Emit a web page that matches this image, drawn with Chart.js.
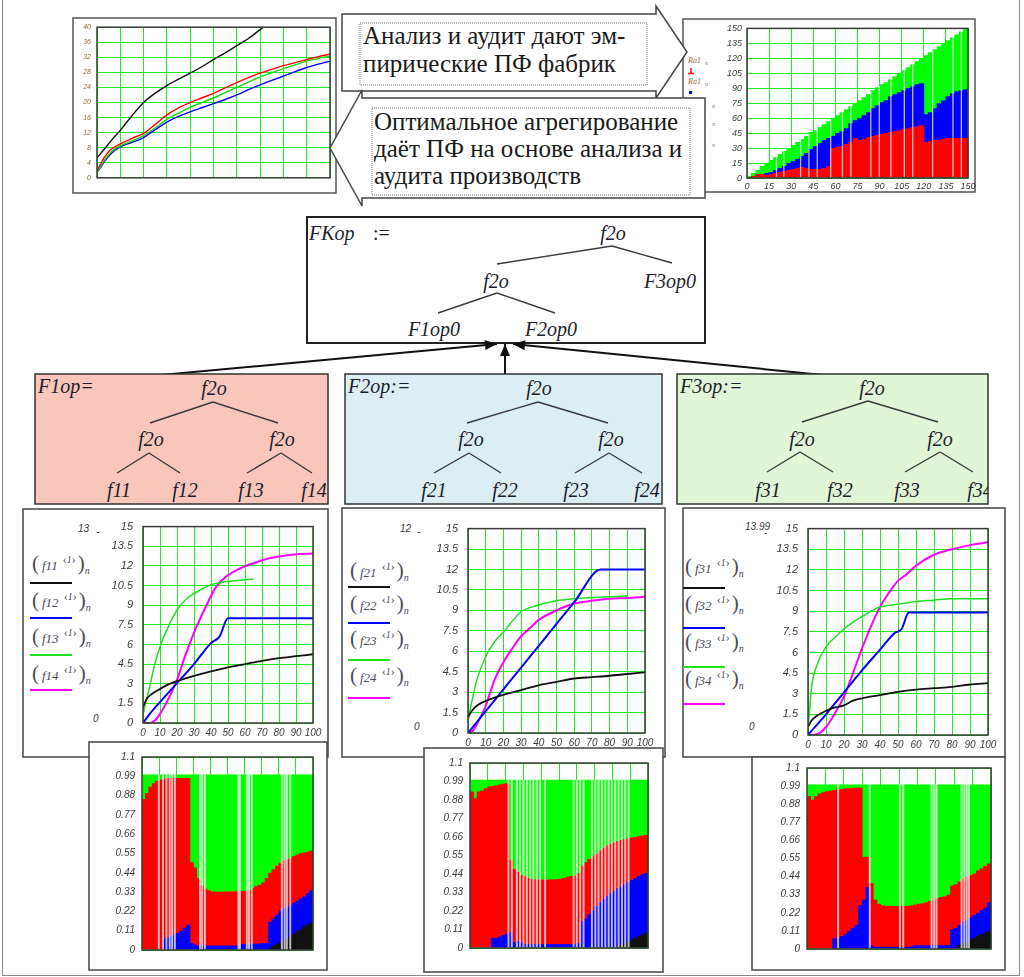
<!DOCTYPE html>
<html>
<head>
<meta charset="utf-8">
<script src="https://cdn.jsdelivr.net/npm/chart.js@4.4.0/dist/chart.umd.min.js"></script>
<style>
  body { margin: 0; background: #fff; }
  #sheet { position: relative; width: 1024px; height: 977px; overflow: hidden; }
  #sheet svg { position: absolute; left: 0; top: 0; }
  #sheet canvas { position: absolute; }
</style>
</head>
<body>
<div id="sheet">
  <svg id="art" width="1024" height="977"></svg>
</div>
<script>
// ---- tick values ----
const t1Ticks = [0, 4, 8, 12, 16, 20, 24, 28, 32, 36, 40];
const pctTicks = [0, 10, 20, 30, 40, 50, 60, 70, 80, 90, 100];
const t2Ticks = [0, 15, 30, 45, 60, 75, 90, 105, 120, 135, 150];
const fTicks = [0, 1.5, 3, 4.5, 6, 7.5, 9, 10.5, 12, 13.5, 15];
const shareTicks = [0, 0.11, 0.22, 0.33, 0.44, 0.55, 0.66, 0.77, 0.88, 0.99, 1.1];

// ---- empirical production functions of the three factories (x, y) ----
const t1Black = [[0,5.3],[3,7.5],[6,9.8],[10,12.6],[15,16.5],[20,20],[25,22.5],[30,24.5],[35,26.2],[40,27.8],[45,29.5],[50,31.4],[55,33.2],[60,35.1],[65,37],[71.4,40],[75,41.5]];
const t1Red = [[0,2],[1,3],[3,5.3],[6,7.5],[10,9],[15,10.5],[20,11.8],[25,14.2],[30,16.7],[35,18.6],[40,20],[45,21.2],[50,22.4],[55,23.9],[60,25.3],[65,26.6],[70,27.8],[75,28.8],[80,29.8],[85,30.6],[90,31.4],[95,32.2],[100,32.8]];
const t1Green = [[0,1.5],[1,2.5],[3,4.5],[6,6.8],[10,8.5],[15,9.8],[20,11.2],[25,13.3],[30,15.5],[35,17.2],[40,18.7],[45,20],[50,21.2],[55,22.6],[60,24],[65,25.4],[70,26.8],[75,27.9],[80,29],[85,30],[90,31],[95,31.7],[100,32.3]];
const t1Blue = [[0,1.5],[1,2.3],[3,4.2],[6,6.4],[10,8.2],[15,9.4],[20,10.7],[25,12.8],[30,14.8],[35,16.3],[40,17.5],[45,18.6],[50,19.7],[55,20.8],[60,22],[65,23.4],[70,24.7],[75,25.9],[80,27],[85,28.2],[90,29.3],[95,30.2],[100,31]];

// ---- Ra1 allocation, bar tops ----
const t2Mid = [1.5,4.5,7.5,10.5,13.5,16.5,19.5,22.5,25.5,28.5,31.5,34.5,37.5,40.5,43.5,46.5,49.5,52.5,55.5,58.5,61.5,64.5,67.5,70.5,73.5,76.5,79.5,82.5,85.5,88.5,91.5,94.5,97.5,100.5,103.5,106.5,109.5,112.5,115.5,118.5,121.5,124.5,127.5,130.5,133.5,136.5,139.5,142.5,145.5,148.5];
const t2Red = [1,2,4,4,3,4,5,6,7,8, 9,10,11,10,9,9,9,10,12,30, 31,32,34,36,40,38,39,41,42,43, 44,45,46,47,48,49,50,51,52,53, 36,37,38,38,39,40,40,40,40,40];
const t2Blue = [1,2,3,4,5,6,8,10,12,15, 17,19,22,25,29,32,35,38,40,42, 45,47,50,55,58,60,63,66,70,73, 76,78,82,84,86,88,90,92,94,95, 64,66,70,75,78,82,85,87,88,89];
const t2Green = [2,5,8,12,15,18,21,24,27,30, 33,36,39,42,46,48,51,54,57,60, 63,66,69,72,75,78,81,84,88,91, 94,96,99,102,105,108,111,114,117,120, 123,126,129,132,135,138,141,144,147,150];
// empty columns inside the allocation and their local heights
const t2Gaps = [20, 25, 36.4, 42, 47.7, 56.8, 64.8, 70.5, 84, 89.8, 97.7, 106.8, 112.5, 126, 139.8, 145.5];
const t2GapTops = [22, 27, 39, 44, 50, 59, 67, 73, 87, 92, 100, 109, 115, 128, 142, 148];

// ---- partial functions f11..f34 ----
const f11 = [[0,1.2],[2,1.8],[5,2.2],[10,2.6],[15,2.95],[20,3.2],[30,3.6],[40,3.95],[50,4.25],[60,4.5],[70,4.75],[80,4.95],[90,5.1],[100,5.25]];
const f12 = [[0,0],[4,0.7],[10,1.6],[20,3.05],[30,4.5],[40,6.1],[45,6.6],[50,8],[100,8]];
const f13 = [[0,0.6],[2,1.8],[4,2.8],[6,4],[8,5],[10,5.8],[12,6.5],[15,7.4],[18,8.2],[21,8.8],[25,9.4],[29,9.8],[33,10.1],[37,10.4],[41,10.6],[45,10.7],[49,10.8],[57,10.9],[65,11.0]];
const f14 = [[0,0],[4,0],[7,0.2],[10,0.7],[14,1.6],[17,2.4],[20,3.3],[25,5.2],[31,7.2],[37,8.9],[43,10.4],[49,11.2],[57,11.8],[65,12.2],[75,12.6],[84,12.8],[92,12.9],[100,12.95]];

const f21 = [[0,1.17],[2,1.6],[5,2.0],[10,2.35],[15,2.6],[20,2.8],[30,3.15],[40,3.5],[50,3.75],[60,4.0],[70,4.1],[80,4.2],[90,4.33],[100,4.45]];
const f22 = [[0,0],[10,1.6],[20,3.2],[30,4.8],[40,6.4],[50,8],[60,9.6],[75,12],[100,12]];
const f23 = [[0,0.8],[2,2.2],[5,3.9],[10,5.6],[15,6.7],[20,7.4],[25,8.2],[30,8.9],[35,9.2],[40,9.4],[50,9.7],[60,9.85],[70,9.95],[80,10.0],[90,10.05]];
const f24 = [[0,0],[3,0.2],[6,0.9],[10,2.0],[15,3.9],[20,5.2],[25,6.2],[30,7.1],[35,7.7],[40,8.3],[50,9.0],[60,9.5],[70,9.7],[80,9.85],[90,9.9],[100,10.0]];

const f31 = [[0,0.6],[2,1.05],[5,1.4],[10,1.75],[15,2.0],[20,2.15],[25,2.5],[30,2.67],[40,2.9],[50,3.14],[60,3.3],[70,3.4],[80,3.5],[90,3.67],[100,3.77]];
const f32 = [[0,0],[10,1.5],[20,3.1],[30,4.7],[40,6.2],[48,7.4],[52,7.7],[56,8.9],[100,8.9]];
const f33 = [[0,0.5],[1,2],[2,3.5],[5,5.1],[10,6.4],[15,7.1],[20,7.7],[25,8.2],[30,8.6],[35,9.0],[40,9.3],[50,9.5],[60,9.7],[70,9.8],[80,9.9],[100,9.9]];
const f34 = [[0,0],[5,0.05],[10,0.58],[15,1.6],[20,2.8],[25,4.5],[30,6.3],[35,7.9],[40,9.3],[45,10.35],[50,11.2],[55,11.7],[60,12.3],[70,13.1],[80,13.5],[90,13.8],[100,14.0]];

// ---- optimal shares, bar tops (black <= blue <= red <= total) ----
const binMid = [1,3,5,7,9,11,13,15,17,19,21,23,25,27,29,31,33,35,37,39,41,43,45,47,49,51,53,55,57,59,61,63,65,67,69,71,73,75,77,79,81,83,85,87,89,91,93,95,97,99];
const fullShare = [1,1,1,1,1,1,1,1,1,1, 1,1,1,1,1,1,1,1,1,1, 1,1,1,1,1,1,1,1,1,1, 1,1,1,1,1,1,1,1,1,1, 1,1,1,1,1,1,1,1,1,1];

const b1Red = [0.86,0.895,0.93,0.95,0.964,0.972,0.976,0.98,0.98,0.98, 0.98,0.98,0.98,0.98,0.5,0.47,0.41,0.37,0.35,0.34, 0.333,0.333,0.332,0.332,0.333,0.333,0.334,0.334,0.335,0.336, 0.338,0.342,0.355,0.365,0.372,0.385,0.41,0.44,0.46,0.48, 0.495,0.51,0.518,0.525,0.535,0.545,0.552,0.556,0.56,0.566];
const b1Blue = [0,0,0,0,0,0,0.066,0.074,0.083,0.09, 0.097,0.109,0.126,0.143,0.04,0.031,0.026,0.025,0.025,0.025, 0.025,0.025,0.025,0.025,0.025,0.025,0.025,0.025,0.03,0.033, 0.035,0.035,0.036,0.036,0.037,0.038,0.04,0.16,0.18,0.2, 0.225,0.238,0.247,0.26,0.27,0.28,0.295,0.305,0.325,0.34];
const b1Black = [0,0,0,0,0,0,0,0,0,0, 0,0,0,0,0,0,0,0,0,0, 0,0,0,0,0,0,0,0,0,0, 0,0,0,0,0,0,0,0.01,0.025,0.035, 0.045,0.057,0.07,0.083,0.095,0.109,0.12,0.135,0.148,0.155];
const b1Gaps = [9.8, 12.3, 14.3, 16.2, 17.6, 19.2, 33.9, 35.2, 36.8, 56.4, 57.3, 61.3, 62.6, 64.2, 81.8, 83.4, 84.7, 86.7];

const b2Red = [0.93,0.89,0.93,0.936,0.95,0.96,0.963,0.967,0.972,0.976, 0.98,0.525,0.47,0.453,0.435,0.426,0.417,0.41,0.408,0.408, 0.407,0.407,0.408,0.408,0.409,0.412,0.417,0.424,0.428,0.43, 0.445,0.49,0.51,0.53,0.545,0.56,0.58,0.597,0.61,0.62, 0.628,0.636,0.642,0.647,0.652,0.657,0.66,0.665,0.669,0.672];
const b2Blue = [0,0,0,0,0,0,0.059,0.06,0.068,0.077, 0.086,0.095,0.036,0.041,0.032,0.023,0.023,0.023,0.023,0.023, 0.023,0.023,0.023,0.023,0.023,0.023,0.023,0.023,0.023,0.023, 0.03,0.16,0.175,0.2,0.225,0.25,0.27,0.29,0.31,0.325, 0.34,0.355,0.365,0.38,0.393,0.405,0.415,0.428,0.438,0.446];
const b2Black = [0,0,0,0,0,0,0,0,0,0, 0,0,0,0,0,0,0,0,0,0, 0,0,0,0,0,0,0,0,0,0, 0,0,0,0,0,0,0,0,0,0, 0.003,0.01,0.018,0.028,0.04,0.05,0.062,0.072,0.082,0.09];
const b2Gaps = [21.6, 23.5, 26.3, 28.1, 30, 31.9, 33.8, 35.6, 37.5, 39.4, 42.2, 58.2, 60, 61.9, 63.8, 68.5, 70.4, 72.2, 74.1, 76, 77.9, 79.7, 81.6, 83.5, 85.4, 87.2, 89.1];

const b3Red = [0.93,0.907,0.93,0.945,0.953,0.959,0.962,0.966,0.97,0.972, 0.975,0.977,0.979,0.98,0.98,0.56,0.56,0.4,0.3,0.275, 0.266,0.262,0.262,0.262,0.262,0.262,0.262,0.262,0.265,0.27, 0.275,0.278,0.284,0.293,0.3,0.31,0.316,0.32,0.33,0.385, 0.394,0.41,0.427,0.44,0.449,0.458,0.477,0.49,0.504,0.52];
const b3Blue = [0,0,0,0,0,0,0,0.064,0.068,0.079, 0.092,0.11,0.128,0.147,0.266,0.3,0.376,0.02,0.013,0.013, 0.013,0.013,0.013,0.013,0.013,0.013,0.013,0.013,0.015,0.022, 0.022,0.022,0.022,0.022,0.022,0.022,0.022,0.022,0.024,0.12, 0.128,0.147,0.165,0.174,0.192,0.207,0.22,0.238,0.251,0.284];
const b3Black = [0,0,0,0,0,0,0,0,0,0, 0,0,0,0,0,0,0,0,0,0, 0,0,0,0,0,0,0,0,0,0, 0,0,0,0,0,0,0,0,0,0, 0.009,0.024,0.037,0.046,0.06,0.068,0.079,0.092,0.1,0.11];
const b3Gaps = [16.9, 34.1, 50.5, 52.3, 67.7, 69.1, 70.4, 84, 85.5, 86.8, 88];

// ---- colours ----
const GRID = '#22ea22';
const C = { black: '#111111', red: '#ff0000', blue: '#0000ff', green: '#1ee01e', magenta: '#ff00ff', barGreen: '#00ff00', gap: 'rgba(255,255,255,0.72)' };

// ---------------- svg helpers ----------------
const sheet = document.getElementById('sheet');
const art = document.getElementById('art');
const NS = 'http://www.w3.org/2000/svg';

function el(tag, attrs, parent) {
  const e = document.createElementNS(NS, tag);
  for (const k in attrs) e.setAttribute(k, attrs[k]);
  (parent || art).appendChild(e);
  return e;
}
function label(x, y, s, attrs, parent) {
  const t = el('text', Object.assign({ x, y }, attrs), parent);
  t.textContent = s;
  return t;
}
function span(t, s, attrs) {
  const e = el('tspan', attrs, t);
  e.textContent = s;
}
function seg(x1, y1, x2, y2, attrs, parent) {
  return el('line', Object.assign({ x1, y1, x2, y2, stroke: '#333', 'stroke-width': 1.5 }, attrs), parent);
}
function box(x, y, w, h, attrs) {
  return el('rect', Object.assign({ x, y, width: w, height: h, fill: '#fff', stroke: '#444', 'stroke-width': 1.5 }, attrs));
}
function head(x1, y1, x2, y2) {
  const a = Math.atan2(y2 - y1, x2 - x1), L = 12, W = 5;
  const bx = x2 - L * Math.cos(a), by = y2 - L * Math.sin(a);
  const px = -Math.sin(a) * W, py = Math.cos(a) * W;
  el('polygon', { points: `${x2},${y2} ${bx + px},${by + py} ${bx - px},${by - py}`, fill: '#111' });
}

const SERIF = { 'font-family': 'Liberation Serif', fill: '#1a1a1a' };
const TREE = { 'font-family': 'Liberation Serif', 'font-style': 'italic', 'font-size': 20, fill: '#1d1d2b', 'text-anchor': 'middle' };
const SMALL = { 'font-family': 'Liberation Sans', 'font-style': 'italic', 'font-size': 10, fill: '#3a3a3a' };

function drawTree(g, nodes, edges) {
  edges.forEach(([a, b, c, d]) => seg(a, b, c, d, { stroke: '#3a3a3a', 'stroke-width': 1.4 }, g));
  nodes.forEach(([s, x, y]) => label(x, y, s, TREE, g));
}

function opBox(id, x, y, w, h, fill, title, nodes, edges) {
  const clip = el('clipPath', { id });
  el('rect', { x, y, width: w, height: h }, clip);
  box(x, y, w, h, { fill, stroke: '#333' });
  const g = el('g', { 'clip-path': `url(#${id})` });
  label(x + 3, y + 19, title, Object.assign({}, TREE, { 'text-anchor': 'start' }), g);
  drawTree(g, nodes, edges);
}

function fLegend(x, y, name) {
  const t = el('text', { x, y, fill: '#4a4a58', 'font-family': 'Liberation Serif' });
  span(t, '(', { 'font-size': 21 });
  span(t, name, { 'font-size': 13, 'font-style': 'italic', dx: 3 });
  span(t, '\u2039', { 'font-size': 12, dy: -7, dx: 5 });
  span(t, '1', { 'font-size': 10, 'font-style': 'italic' });
  span(t, '\u203A', { 'font-size': 12 });
  span(t, ')', { 'font-size': 21, dy: 7, dx: 2 });
  span(t, 'n', { 'font-size': 10, 'font-style': 'italic', dy: 4 });
}

function legendPanel(x, rows, names, colors) {
  rows.forEach((r, i) => {
    fLegend(x + 2, r[0], names[i]);
    seg(x, r[1], x + 42, r[1], { stroke: colors[i], 'stroke-width': 2 });
  });
}

// ---------------- drawing ----------------
// outer sheet border
el('rect', { x: 2.5, y: -2, width: 1017, height: 977.5, fill: 'none', stroke: '#8a8a8a', 'stroke-width': 1 });

// frames of the two upper charts
box(73, 18, 263, 175, { stroke: '#555' });
box(683, 19, 292, 173, { stroke: '#555' });
const tiny = { 'font-family': 'Liberation Serif', 'font-style': 'italic', 'font-size': 8, fill: '#8a6a3a' };
const tinySub = Object.assign({}, tiny, { 'font-size': 6 });
label(688, 63, 'Ra1', tiny); label(705, 65, 'n', tinySub);
seg(691, 68, 691, 73, { stroke: '#ff0000', 'stroke-width': 1.5 });
seg(688, 73.5, 694, 73.5, { stroke: '#ff0000', 'stroke-width': 1.5 });
label(688, 84, 'Ra1', tiny); label(705, 86, 'n', tinySub);
el('rect', { x: 689, y: 91, width: 3, height: 3, fill: '#0000ff' });
label(712, 108, 'n', tinySub);
label(712, 126, 'n', tinySub);
label(712, 147, 'n', tinySub);

// callout arrows with captions
el('polygon', { points: '342,14 656,14 656,6 687,52 656,98 656,91 342,91', fill: '#fff', stroke: '#444', 'stroke-width': 1.5 });
el('rect', { x: 360, y: 23, width: 287, height: 62, fill: 'none', stroke: '#777', 'stroke-width': 1, 'stroke-dasharray': '1,1' });
label(363, 44, 'Анализ и аудит дают эм-', Object.assign({ 'font-size': 25 }, SERIF));
label(363, 72, 'пирические ПФ фабрик', Object.assign({ 'font-size': 25 }, SERIF));

el('polygon', { points: '705,98 362,98 362,90 330,148 362,206 362,198 705,198', fill: '#fff', stroke: '#444', 'stroke-width': 1.5 });
el('rect', { x: 372, y: 108, width: 318, height: 87, fill: 'none', stroke: '#777', 'stroke-width': 1, 'stroke-dasharray': '1,1' });
label(374, 130, 'Оптимальное агрегирование', Object.assign({ 'font-size': 25 }, SERIF));
label(374, 157, 'даёт ПФ на основе анализа и', Object.assign({ 'font-size': 25 }, SERIF));
label(374, 184, 'аудита производств', Object.assign({ 'font-size': 25 }, SERIF));

// aggregate operator tree
box(307, 217, 398, 126, { stroke: '#222', 'stroke-width': 2 });
label(309, 240, 'FKop', Object.assign({}, TREE, { 'text-anchor': 'start' }));
label(373, 240, ':=', Object.assign({}, TREE, { 'text-anchor': 'start', 'font-style': 'normal' }));
drawTree(null, [
  ['f2o', 613, 240], ['f2o', 496, 288], ['F3op0', 670, 288], ['F1op0', 434, 336], ['F2op0', 551, 336]
], [
  [612, 246, 497, 264], [612, 246, 672, 263], [497, 293, 438, 313], [497, 293, 555, 313]
]);

// links from factory trees into the aggregate
seg(150, 376, 497, 344, { stroke: '#111', 'stroke-width': 2 }); head(150, 376, 497, 344);
seg(833, 376, 513, 344, { stroke: '#111', 'stroke-width': 2 }); head(833, 376, 513, 344);
seg(505, 375, 505, 344, { stroke: '#111', 'stroke-width': 2 }); head(505, 375, 505, 344);

// factory operator trees
opBox('clipF1', 35, 374, 293, 130, '#f9c6bb', 'F1op=', [
  ['f2o', 214, 395], ['f2o', 151, 446], ['f2o', 282, 446],
  ['f11', 119, 497], ['f12', 185, 497], ['f13', 251, 497], ['f14', 314, 497]
], [
  [213, 402, 150, 423], [213, 402, 278, 423],
  [149, 453, 117, 473], [149, 453, 180, 473], [281, 453, 247, 473], [281, 453, 312, 473]
]);
opBox('clipF2', 345, 374, 317, 130, '#dbeef4', 'F2op:=', [
  ['f2o', 539, 395], ['f2o', 471, 446], ['f2o', 611, 446],
  ['f21', 434, 497], ['f22', 505, 497], ['f23', 576, 497], ['f24', 647, 497]
], [
  [538, 402, 467, 423], [538, 402, 608, 423],
  [469, 453, 434, 473], [469, 453, 501, 473], [609, 453, 575, 473], [609, 453, 642, 473]
]);
opBox('clipF3', 677, 374, 311, 130, '#e1f5d7', 'F3op:=', [
  ['f2o', 872, 395], ['f2o', 802, 446], ['f2o', 940, 446],
  ['f31', 768, 497], ['f32', 840, 497], ['f33', 907, 497], ['f34', 980, 497]
], [
  [868, 401, 802, 422], [868, 401, 938, 422],
  [800, 452, 767, 472], [800, 452, 833, 472], [940, 452, 905, 472], [940, 452, 973, 472]
]);

// middle panels with legends
const fColors = [C.black, C.blue, C.green, C.magenta];
box(23, 509, 305, 248);
box(342, 508, 323, 249);
box(683, 508, 322, 249);
legendPanel(30, [[570, 583], [607, 618], [643, 655], [680, 690]], ['f11', 'f12', 'f13', 'f14'], fColors);
legendPanel(348, [[577, 587], [610, 623], [645, 660], [682, 698]], ['f21', 'f22', 'f23', 'f24'], fColors);
legendPanel(683, [[573, 588], [610, 628], [648, 667], [685, 704]], ['f31', 'f32', 'f33', 'f34'], fColors);
label(78, 532, '13', SMALL); label(96, 535, '-', SMALL); label(93, 722, '0', SMALL);
label(400, 532, '12', SMALL); label(417, 535, '-', SMALL); label(414, 730, '0', SMALL);
label(745, 530, '13.99', SMALL); label(764, 536, '-', SMALL); label(749, 730, '0', SMALL);

// lower panels
box(89, 742, 238, 228);
box(424, 748, 239, 224);
box(752, 757, 253, 213);

// ---------------- charts ----------------
Chart.defaults.font.family = 'Liberation Sans';

const plotFrame = {
  id: 'plotFrame',
  afterDraw(chart) {
    const a = chart.chartArea, c = chart.ctx;
    c.save();
    c.strokeStyle = '#3a3a3a';
    c.lineWidth = 1.5;
    c.strokeRect(a.left, a.top, a.right - a.left, a.bottom - a.top);
    c.restore();
  }
};

function axis(ticks, size, o) {
  return {
    type: 'linear', min: ticks[0], max: ticks[ticks.length - 1], offset: false,
    afterBuildTicks: s => { s.ticks = ticks.map(v => ({ value: v })); },
    afterFit: s => { if (s.isHorizontal()) s.height = size; else s.width = size; },
    grid: { color: GRID, lineWidth: 1, drawTicks: false, offset: false },
    border: { display: false },
    ticks: {
      display: o.show !== false, autoSkip: false, maxRotation: 0, padding: o.pad || 4,
      color: o.color || '#3a3a3a',
      font: { family: 'Liberation Sans', style: 'italic', size: o.font || 10 },
      callback: v => String(v)
    }
  };
}

function plotChart(plot, yw, xh, type, datasets, xAx, yAx) {
  const padTop = 8, padRight = 14;
  const cv = document.createElement('canvas');
  cv.width = yw + plot.w + padRight;
  cv.height = padTop + plot.h + xh;
  cv.style.left = (plot.x - yw) + 'px';
  cv.style.top = (plot.y - padTop) + 'px';
  sheet.appendChild(cv);
  new Chart(cv, {
    type,
    data: { datasets },
    options: {
      responsive: false, animation: false, devicePixelRatio: 1,
      layout: { padding: { left: 0, top: padTop, right: padRight, bottom: 0 } },
      plugins: { legend: { display: false }, tooltip: { enabled: false } },
      scales: { x: xAx, y: yAx }
    },
    plugins: [plotFrame]
  });
}

function line(pts, color, width) {
  return {
    data: pts.map(([x, y]) => ({ x, y })), borderColor: color, borderWidth: width || 1.6,
    pointRadius: 0, cubicInterpolationMode: 'monotone', fill: false
  };
}
// neighbouring columns overlap a little so no seams show between them
function bars(mid, tops, color, thick) {
  return {
    data: mid.map((x, i) => ({ x, y: tops[i] })), backgroundColor: color, borderWidth: 0,
    barThickness: thick, grouped: false, inflateAmount: 0
  };
}

// empirical functions
plotChart({ x: 97, y: 25, w: 233, h: 163 }, 24, 0, 'line', [
  line(t1Black, C.black, 1.4), line(t1Red, C.red, 1.4), line(t1Green, '#10d810', 1.4), line(t1Blue, C.blue, 1.4)
], axis(pctTicks, 0, { show: false }), axis(t1Ticks, 24, { font: 7, pad: 6, color: '#8a6a3a' }));

// Ra1 allocation
const t2Plot = { x: 747, y: 26, w: 221, h: 152 };
const t2Bin = t2Plot.w / t2Mid.length + 0.8;
plotChart(t2Plot, 30, 16, 'bar', [
  bars(t2Gaps, t2GapTops, C.gap, 1.3),
  bars(t2Mid, t2Red, C.red, t2Bin), bars(t2Mid, t2Blue, C.blue, t2Bin), bars(t2Mid, t2Green, C.barGreen, t2Bin)
], axis(t2Ticks, 16, { font: 9, pad: 3 }), axis(t2Ticks, 30, { font: 9, pad: 5 }));

// partial functions
const fPanels = [
  [{ x: 143, y: 518, w: 170, h: 205 }, [f11, f12, f13, f14]],
  [{ x: 468, y: 520, w: 177, h: 213 }, [f21, f22, f23, f24]],
  [{ x: 808, y: 520, w: 180, h: 215 }, [f31, f32, f33, f34]]
];
fPanels.forEach(([plot, fs]) => {
  plotChart(plot, 40, 18, 'line', [
    line(fs[0], C.black, 1.8), line(fs[1], C.blue, 2), line(fs[2], C.green, 1.5), line(fs[3], C.magenta, 2)
  ], axis(pctTicks, 18, { font: 10, pad: 4 }), axis(fTicks, 40, { font: 11, pad: 10 }));
});

// optimal shares
const sPanels = [
  [{ x: 142, y: 752, w: 171, h: 211 }, b1Black, b1Blue, b1Red, b1Gaps],
  [{ x: 470, y: 758, w: 178, h: 203 }, b2Black, b2Blue, b2Red, b2Gaps],
  [{ x: 807, y: 763, w: 184, h: 199 }, b3Black, b3Blue, b3Red, b3Gaps]
];
sPanels.forEach(([plot, k, b, r, gaps]) => {
  const bin = plot.w / binMid.length + 0.8;
  plotChart(plot, 40, 0, 'bar', [
    { data: gaps.map(x => ({ x, y: 1 })), backgroundColor: C.gap, borderWidth: 0, barThickness: 1.3, grouped: false },
    bars(binMid, k, C.black, bin), bars(binMid, b, C.blue, bin), bars(binMid, r, C.red, bin), bars(binMid, fullShare, C.barGreen, bin)
  ], axis(pctTicks, 0, { show: false }), axis(shareTicks, 40, { font: 10, pad: 7 }));
});
</script>
</body>
</html>
